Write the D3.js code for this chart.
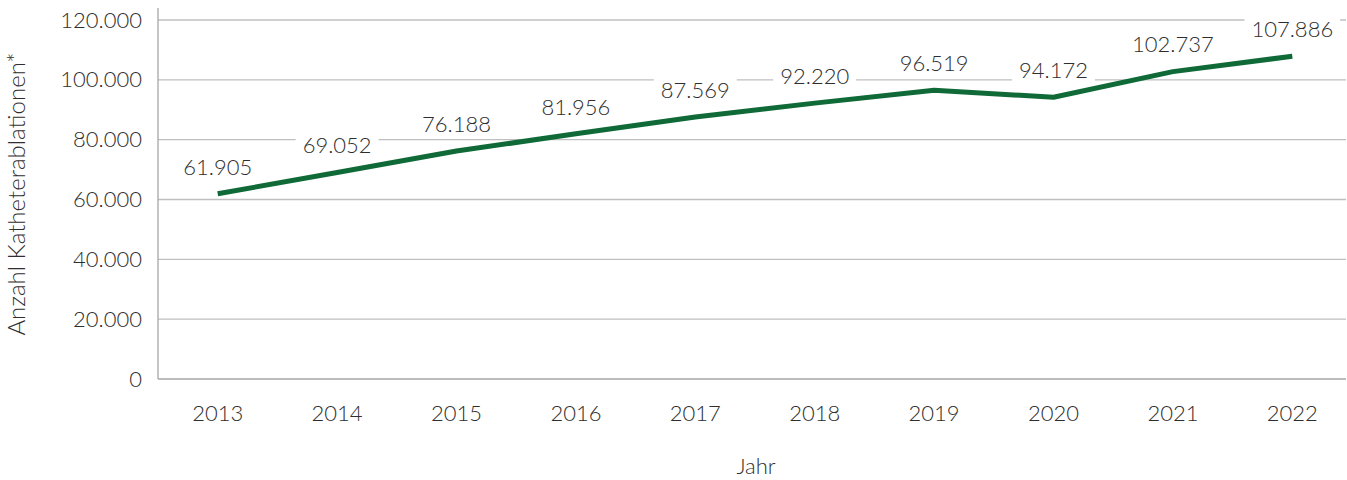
<!DOCTYPE html>
<html><head><meta charset="utf-8">
<script src="https://cdn.jsdelivr.net/npm/d3@7"></script>
<style>
body{margin:0;background:#fff;}
text{font-family:Lato,"Open Sans",sans-serif;font-weight:300;fill:#2e2e2e;}
</style></head>
<body><svg id="c" width="1347" height="480"></svg>
<script>
const years = ["2013","2014","2015","2016","2017","2018","2019","2020","2021","2022"];
const values = [61905,69052,76188,81956,87569,92220,96519,94172,102737,107886];
const yTicks = [0,20000,40000,60000,80000,100000,120000];
const yTitle = "Anzahl Katheterablationen*";
const xTitle = "Jahr";

(function(){
const svg = d3.select("#c");
const pL=158, pR=1352, pT=20, pB=379;
const x = d3.scaleBand().domain(years).range([pL,pR]);
const y = d3.scaleLinear().domain([0,120000]).range([pB,pT]);
const fmt = v => d3.format(",")(v).replace(/,/g,".");

svg.append("g").selectAll("line").data(yTicks.filter(d=>d>0)).join("line")
  .attr("x1",pL).attr("x2",1346).attr("y1",d=>y(d)).attr("y2",d=>y(d))
  .attr("stroke","#bfbfbf").attr("stroke-width",1.3);
svg.append("line").attr("x1",pL).attr("x2",1346).attr("y1",y(0)).attr("y2",y(0))
  .attr("stroke","#a6a6a6").attr("stroke-width",1.3);
svg.append("line").attr("x1",pL).attr("x2",pL).attr("y1",8).attr("y2",y(0))
  .attr("stroke","#a6a6a6").attr("stroke-width",1.3);

const yAxis = d3.axisLeft(y).tickValues(yTicks).tickFormat(fmt).tickSize(0).tickPadding(16);
const ya = svg.append("g").attr("transform",`translate(${pL},0)`).call(yAxis);
ya.select(".domain").remove();
ya.selectAll("text").style("font-size","22px").style("font-family","Lato").attr("fill","#2e2e2e");

const xAxis = d3.axisBottom(x).tickSize(0).tickPadding(26);
const xa = svg.append("g").attr("transform",`translate(0,${pB})`).call(xAxis);
xa.select(".domain").remove();
xa.selectAll("text").style("font-size","22px").style("font-family","Lato").attr("fill","#2e2e2e");

svg.append("text").attr("transform",`translate(25,194) rotate(-90)`).attr("text-anchor","middle")
  .style("font-size","24px").text(yTitle);
svg.append("text").attr("x",756).attr("y",474).attr("text-anchor","middle")
  .style("font-size","22px").text(xTitle);

const cx = d => x(d)+x.bandwidth()/2;
svg.append("path").datum(values.map((v,i)=>[years[i],v]))
  .attr("d",d3.line().x(d=>cx(d[0])).y(d=>y(d[1])))
  .attr("fill","none").attr("stroke","#0f6a38").attr("stroke-width",5).attr("stroke-linejoin","round");

const lg = svg.append("g").selectAll("g").data(values.map((v,i)=>[years[i],v])).join("g")
  .attr("transform",d=>`translate(${cx(d[0])},${y(d[1])-27})`);
const lt = lg.append("text").attr("text-anchor","middle").attr("dy","0.35em")
  .style("font-size","22px").text(d=>fmt(d[1]));
lt.each(function(){
  const b=this.getBBox();
  d3.select(this.parentNode).insert("rect","text").attr("x",b.x-7).attr("y",b.y).attr("width",b.width+14).attr("height",b.height).attr("fill","#fff");
});
})();
</script></body></html>
